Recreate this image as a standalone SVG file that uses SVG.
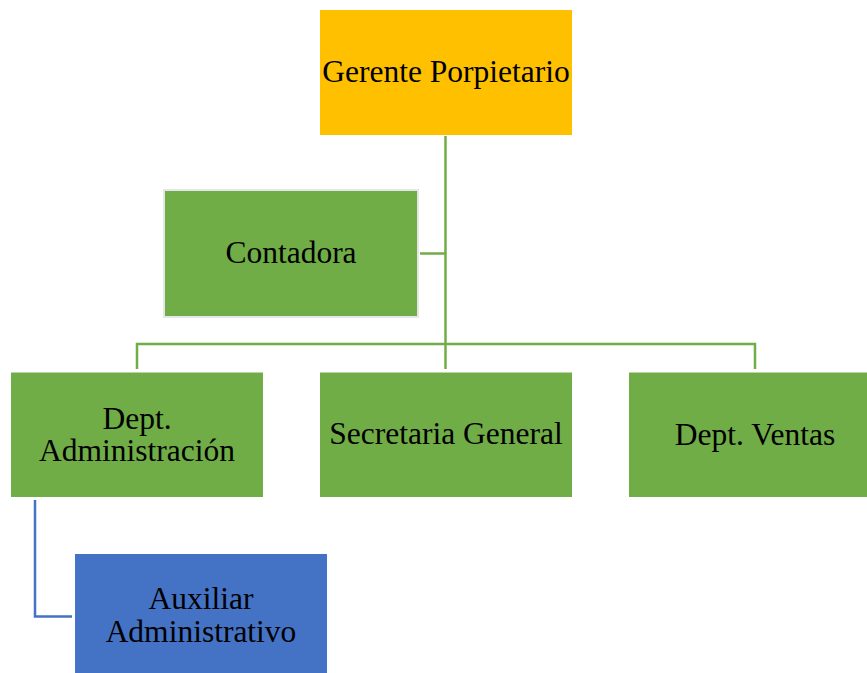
<svg xmlns="http://www.w3.org/2000/svg" width="867" height="673" viewBox="0 0 867 673">
<style>
.t{font-family:"Liberation Serif","Times New Roman",serif;font-size:31.5px;fill:#000;text-anchor:middle}
.g{fill:#70AD47}
.c{fill:none;stroke:#70AD47;stroke-width:2.5}
.cb{fill:none;stroke:#4472C4;stroke-width:2.5}
</style>
<rect width="867" height="673" fill="#fff"/>
<g id="connectors">
<path class="c" d="M445.5 136V369"/>
<path class="c" d="M420 253.5H445.5"/>
<path class="c" d="M137 369V344H755V369"/>
<path class="cb" d="M35 500V616.5H72"/>
</g>
<g id="gerente">
<rect x="320" y="10" width="252" height="125" fill="#FFC000"/>
<text class="t" x="446" y="82">Gerente Porpietario</text>
</g>
<g id="contadora">
<rect x="164" y="190" width="254" height="127" fill="none" stroke="#e6e6e6" stroke-width="2"/>
<rect class="g" x="165" y="191" width="252" height="125"/>
<text class="t" x="291" y="263">Contadora</text>
</g>
<g id="dept-admin">
<rect class="g" x="11" y="372.5" width="252" height="124.5"/>
<text class="t" x="137" y="429">Dept.</text>
<text class="t" x="137" y="461">Administración</text>
</g>
<g id="secretaria">
<rect class="g" x="320" y="372.5" width="252" height="124.5"/>
<text class="t" x="446" y="444">Secretaria General</text>
</g>
<g id="ventas">
<rect class="g" x="629" y="372.5" width="252" height="124.5"/>
<text class="t" x="755" y="445">Dept. Ventas</text>
</g>
<g id="auxiliar">
<rect x="75" y="554" width="252" height="125" fill="#4472C4"/>
<text class="t" x="201" y="609">Auxiliar</text>
<text class="t" x="201" y="642">Administrativo</text>
</g>
</svg>
